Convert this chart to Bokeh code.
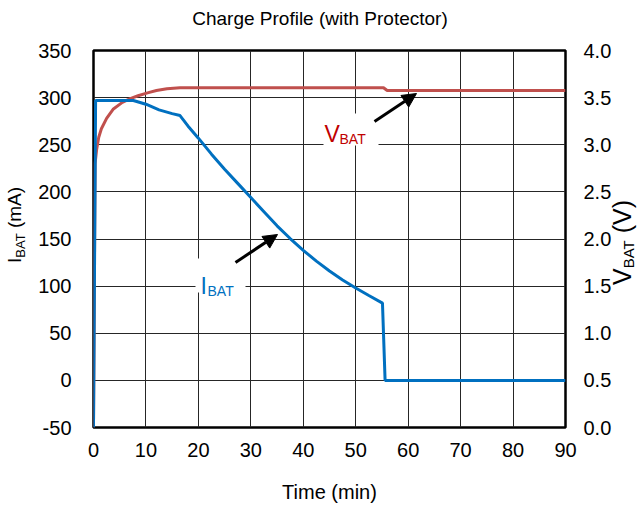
from bokeh.plotting import figure
from bokeh.layouts import column, row
from bokeh.models import (Range1d, LinearAxis, FixedTicker, NumeralTickFormatter,
                          Label, Arrow, NormalHead, BoxAnnotation, Div)
from bokeh.embed import file_html
from bokeh.resources import INLINE

# ---- data ----
time_i = [0, 0.4, 7.6, 10, 12.5, 15, 16.5, 18, 20, 22.5, 25, 27.5, 30, 32.5, 35,
          37.5, 40, 42.5, 45, 47.5, 50, 52.5, 55.1, 55.6, 90]
ibat = [-50, 297, 297, 293, 287, 283, 281, 270, 257, 240, 224, 209, 194, 179, 164,
        150.5, 138, 126.5, 116, 106.5, 98, 90, 82, 0, 0]

time_v = [0, 0.3, 0.6, 1.0, 1.5, 2.5, 3.8, 5.5, 7, 8.5, 10.3, 12, 14, 16.5, 55.3, 56, 90]
vbat = [0, 2.8, 2.95, 3.08, 3.17, 3.28, 3.38, 3.45, 3.49, 3.52, 3.55, 3.575, 3.595,
        3.605, 3.605, 3.575, 3.575]

x_ticks = [0, 10, 20, 30, 40, 50, 60, 70, 80, 90]
i_ticks = [-50, 0, 50, 100, 150, 200, 250, 300, 350]
v_ticks = [0.0, 0.5, 1.0, 1.5, 2.0, 2.5, 3.0, 3.5, 4.0]

TITLE = "Charge Profile (with Protector)"
X_LABEL = "Time (min)"

BLUE = "#0070C0"
RED = "#C0504D"
RED_TXT = "#C00000"
FONT = "Liberation Sans"

TOP_H = 36      # title strip height
LEFT_W = 31     # left axis-title strip width
RIGHT_W = 22    # right axis-title strip width

# page-pixel -> data helpers (frame spans page x 93..565, y 50..427)
def dx(px):
    return (px - 93) / 472 * 90

def dy(py):
    return 350 - (py - 50) / 377 * 400

fig = figure(frame_width=472, frame_height=377,
             min_border_left=93 - LEFT_W, min_border_right=50,
             min_border_top=50 - TOP_H, min_border_bottom=80,
             x_range=Range1d(0, 90), y_range=Range1d(-50, 350),
             output_backend="svg", toolbar_location=None, title=None)
fig.extra_y_ranges = {"v": Range1d(0, 4)}
fig.background_fill_color = "white"
fig.border_fill_color = "white"
fig.outline_line_color = "black"
fig.outline_line_width = 2.5

for ax in (fig.xaxis[0], fig.yaxis[0]):
    ax.axis_line_color = None
    ax.major_tick_line_color = None
    ax.minor_tick_line_color = None
    ax.major_label_text_font = FONT
    ax.major_label_text_font_size = "20px"
    ax.major_label_text_color = "black"
fig.xaxis.ticker = FixedTicker(ticks=x_ticks)
fig.yaxis.ticker = FixedTicker(ticks=i_ticks)
fig.yaxis.formatter = NumeralTickFormatter(format="0")
fig.xaxis.major_label_standoff = 9
fig.yaxis.major_label_standoff = 16
fig.xaxis.axis_label = X_LABEL
fig.xaxis.axis_label_text_font = FONT
fig.xaxis.axis_label_text_font_size = "20px"
fig.xaxis.axis_label_text_font_style = "normal"
fig.xaxis.axis_label_text_color = "black"
fig.xaxis.axis_label_standoff = 21

rax = LinearAxis(y_range_name="v", ticker=FixedTicker(ticks=v_ticks),
                 formatter=NumeralTickFormatter(format="0.0"))
rax.axis_line_color = None
rax.major_tick_line_color = None
rax.minor_tick_line_color = None
rax.major_label_text_font = FONT
rax.major_label_text_font_size = "20px"
rax.major_label_text_color = "black"
rax.major_label_standoff = 12
fig.add_layout(rax, "right")

fig.xgrid.ticker = FixedTicker(ticks=x_ticks)
fig.ygrid.ticker = FixedTicker(ticks=i_ticks)
for g in (fig.xgrid[0], fig.ygrid[0]):
    g.grid_line_color = "#262626"
    g.grid_line_width = 1

fig.line(time_v, vbat, y_range_name="v", line_color=RED, line_width=3)
fig.line(time_i, ibat, line_color=BLUE, line_width=3)

# white boxes behind in-plot labels
fig.add_layout(BoxAnnotation(left=dx(323), right=dx(378), top=dy(113), bottom=dy(145),
                             fill_color="white", fill_alpha=1, line_color=None))
fig.add_layout(BoxAnnotation(left=dx(195), right=dx(245), top=dy(258), bottom=dy(292),
                             fill_color="white", fill_alpha=1, line_color=None))

def lab(text, px, py, size, color):
    fig.add_layout(Label(x=dx(px), y=dy(py), text=text, text_font=FONT,
                         text_font_size=size, text_color=color,
                         text_align="left", text_baseline="alphabetic"))

lab("V", 324, 133, "23px", RED_TXT)
lab("BAT", 339, 138, "14px", RED_TXT)
lab("I", 200, 285, "23px", BLUE)
lab("BAT", 207, 290, "14px", BLUE)

for (x0, y0, x1, y1) in [(374, 121, 416, 93), (235, 262, 277, 234)]:
    fig.add_layout(Arrow(end=NormalHead(size=14, fill_color="black", line_color="black"),
                         x_start=dx(x0), y_start=dy(y0), x_end=dx(x1), y_end=dy(y1),
                         line_color="black", line_width=3))

FIG_H = 377 + (50 - TOP_H) + 80
FIG_W = 472 + (93 - LEFT_W) + 50

def vlabel(main, sub, unit, main_px, sub_px, sub_drop, left, top, w):
    inner = (
        f'<div style="position:relative;width:{w}px;height:{FIG_H}px;overflow:visible">'
        f'<div style="position:absolute;left:{left}px;top:{top}px;transform:rotate(-90deg);'
        f'transform-origin:0 0;white-space:nowrap;font-family:\'{FONT}\';'
        f'font-size:{main_px}px;line-height:1;color:black">'
        f'{main}<span style="font-size:{sub_px}px;position:relative;top:{sub_drop}px">{sub}</span>'
        f'&nbsp;{unit}</div></div>'
    )
    return Div(text=inner, width=w, height=FIG_H, margin=0)

left_div = vlabel("I", "BAT", "(mA)", 19, 13, 4, 5, 263 - TOP_H, LEFT_W)
right_div = vlabel("V", "BAT", "(V)", 25, 15, 3, -5, 285 - TOP_H, RIGHT_W)

total_w = LEFT_W + FIG_W + RIGHT_W
title_div = Div(
    text=(f'<div style="position:relative;width:{total_w}px;height:{TOP_H}px">'
          f'<div style="position:absolute;left:0;top:9px;width:640px;text-align:center;'
          f'font-family:\'{FONT}\';font-size:19px;line-height:1;color:black;white-space:nowrap">'
          f'{TITLE}</div></div>'),
    width=total_w, height=TOP_H, margin=0)

p = column(title_div, row(left_div, fig, right_div, spacing=0), spacing=0)

open("out.html", "w").write(file_html(p, INLINE))
